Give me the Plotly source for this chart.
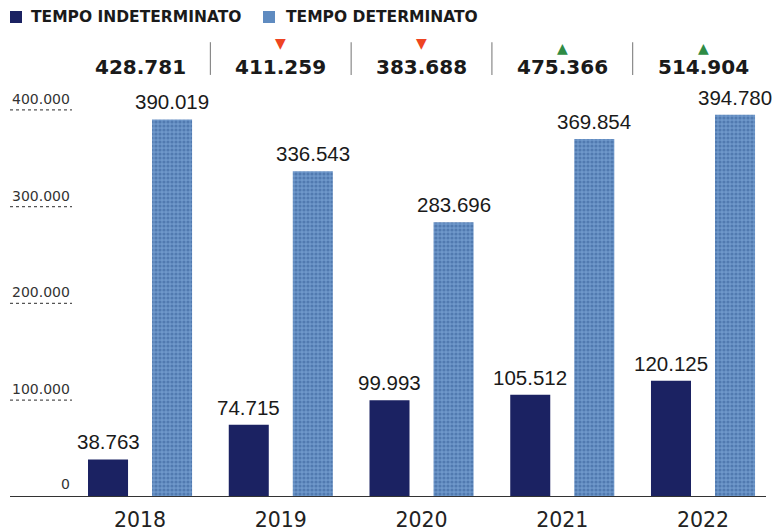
import plotly.graph_objects as go

years = ["2018", "2019", "2020", "2021", "2022"]
indeterminato = [38763, 74715, 99993, 105512, 120125]
determinato = [390019, 336543, 283696, 369854, 394780]
totals = [428781, 411259, 383688, 475366, 514904]
y_ticks = [100000, 200000, 300000, 400000]
y_tick_labels = ["100.000", "200.000", "300.000", "400.000"]
legend_labels = ["TEMPO INDETERMINATO", "TEMPO DETERMINATO"]

DARK = "#1b2262"
LIGHT = "#5f8bc0"
NUM_FONT = "DejaVu Sans"
VAL_FONT = "Liberation Sans"


def fmt(v):
    return f"{v:,}".replace(",", ".")


fig = go.Figure()
fig.add_trace(go.Bar(x=years, y=indeterminato, name=legend_labels[0],
                     marker=dict(color=DARK, line=dict(width=0)), showlegend=False))
fig.add_trace(go.Bar(x=years, y=determinato, name=legend_labels[1],
                     marker=dict(color=LIGHT, line=dict(width=0),
                                 pattern=dict(shape=".", fgcolor="#335c96", bgcolor="#6e98ca",
                                              size=4, solidity=0.5)),
                     showlegend=False))

ann = []
shapes = []

# value labels
for i, y in enumerate(years):
    ann.append(dict(x=i, y=indeterminato[i], xref="x", yref="y", text=fmt(indeterminato[i]),
                    showarrow=False, xshift=-32, yshift=4, yanchor="bottom",
                    font=dict(family=VAL_FONT, size=20.5, color="#1a1a1a")))
    ann.append(dict(x=i, y=determinato[i], xref="x", yref="y", text=fmt(determinato[i]),
                    showarrow=False, xshift=32, yshift=4, yanchor="bottom",
                    font=dict(family=VAL_FONT, size=20.5, color="#1a1a1a")))

# header totals and change markers
for i, y in enumerate(years):
    ann.append(dict(x=i, y=1.052, xref="x", yref="paper", text="<b>" + fmt(totals[i]) + "</b>",
                    showarrow=False, yanchor="middle",
                    font=dict(family=NUM_FONT, size=20, color="#1a1a1a")))
    if i > 0:
        up = totals[i] > totals[i - 1]
        ann.append(dict(x=i, y=1.099 if up else 1.109, xref="x", yref="paper",
                        text="▲" if up else "▼", showarrow=False, yanchor="middle",
                        font=dict(family=NUM_FONT, size=14,
                                  color="#2e8b45" if up else "#ee4422")))
    if i < len(years) - 1:
        shapes.append(dict(type="line", xref="x", yref="paper", x0=i + 0.5, x1=i + 0.5,
                           y0=1.032, y1=1.112, line=dict(color="#8a8a8a", width=1.2)))

# y tick labels and underlines
tick_x_right = (72 - 10) / 760
for v, lab in zip(y_ticks, y_tick_labels):
    ann.append(dict(x=tick_x_right, y=v, xref="paper", yref="y", text=lab, showarrow=False,
                    xanchor="right", yanchor="bottom", yshift=1,
                    font=dict(family=NUM_FONT, size=14, color="#333333")))
    shapes.append(dict(type="line", xref="paper", yref="y", x0=0.0, x1=tick_x_right,
                       y0=v, y1=v, line=dict(color="#555555", width=1.2, dash="dot")))
ann.append(dict(x=tick_x_right, y=0, xref="paper", yref="y", text="0", showarrow=False,
                xanchor="right", yanchor="bottom", yshift=3,
                font=dict(family=NUM_FONT, size=14, color="#333333")))

# baseline
shapes.append(dict(type="line", xref="paper", yref="y", x0=0.0, x1=(766 - 10) / 760,
                   y0=0, y1=0, line=dict(color="#333333", width=2)))

# legend (custom)
shapes.append(dict(type="rect", xref="paper", yref="paper",
                   x0=(10 - 10) / 760, x1=(22 - 10) / 760,
                   y0=(497 - 23) / 409, y1=(497 - 11) / 409,
                   fillcolor=DARK, line=dict(width=0)))
shapes.append(dict(type="rect", xref="paper", yref="paper",
                   x0=(263 - 10) / 760, x1=(275 - 10) / 760,
                   y0=(497 - 23) / 409, y1=(497 - 11) / 409,
                   fillcolor=LIGHT, line=dict(width=0)))
ann.append(dict(x=(29 - 10) / 760, y=(497 - 17) / 409, xref="paper", yref="paper",
                text="<b>" + legend_labels[0] + "</b>", showarrow=False, xanchor="left",
                yanchor="middle", font=dict(family=NUM_FONT, size=15.5, color="#1a1a1a")))
ann.append(dict(x=(284 - 10) / 760, y=(497 - 17) / 409, xref="paper", yref="paper",
                text="<b>" + legend_labels[1] + "</b>", showarrow=False, xanchor="left",
                yanchor="middle", font=dict(family=NUM_FONT, size=15.5, color="#1a1a1a")))

fig.update_layout(
    width=774, height=530,
    margin=dict(l=10, r=4, t=88, b=33),
    paper_bgcolor="white", plot_bgcolor="white",
    barmode="group", bargap=0.09, bargroupgap=0.375,
    xaxis=dict(type="category", range=[-0.924, 4.476], showgrid=False, zeroline=False,
               showline=False, ticks="", ticklabelstandoff=8, automargin=False,
               tickfont=dict(family=NUM_FONT, size=20.5, color="#222222")),
    yaxis=dict(range=[0, 422500], showgrid=False, zeroline=False, showline=False,
               showticklabels=False),
    annotations=ann, shapes=shapes,
)

fig.write_html("out.html", config={"displayModeBar": False},
               post_script="document.body.style.margin='0';")
